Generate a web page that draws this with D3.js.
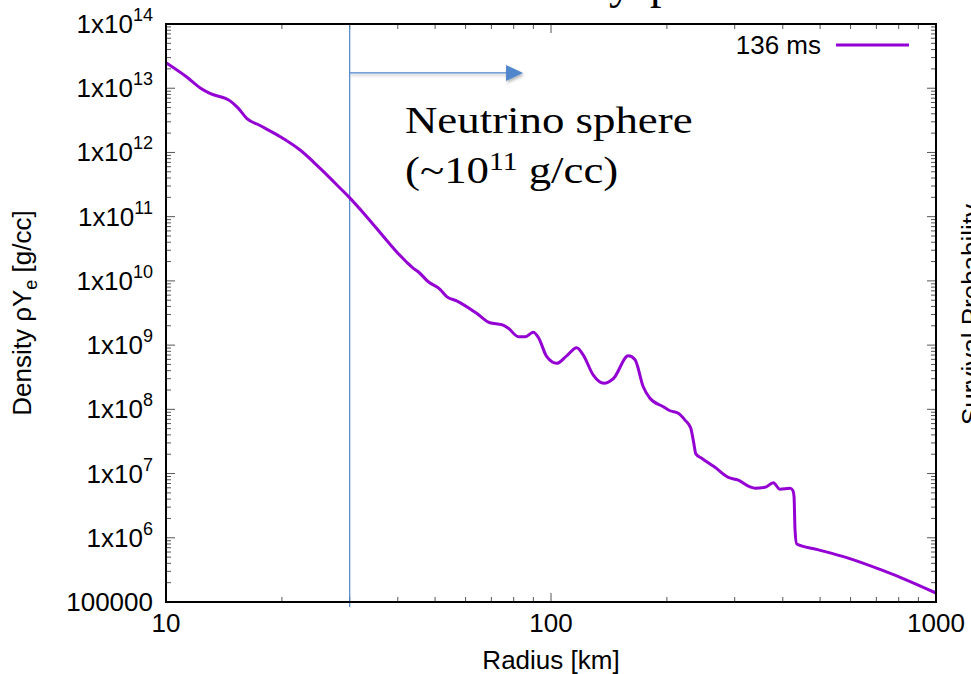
<!DOCTYPE html>
<html>
<head>
<meta charset="utf-8">
<script src="https://cdn.jsdelivr.net/npm/d3@7"></script>
<style>
  html, body { margin: 0; padding: 0; background: #fff; }
  svg { display: block; }
</style>
</head>
<body>
<svg id="chart" width="971" height="674"></svg>
<script>
// ---- data ----
const radiusKm = [10.0, 11.3, 12.3, 13.0, 14.7, 15.4, 16.2, 17.6, 19.8, 22.3, 25.1, 28.3, 29.8, 33.2, 37.4,
  40.5, 42.2, 43.9, 45.2, 48.0, 51.5, 53.6, 56.9, 64.1, 69.4, 74.5, 77.5, 82.3, 85.6, 89.9, 92.7, 97.5,
  103.5, 109.8, 116.6, 121.3, 128.8, 137.3, 145.2, 158.8, 165.3, 173.6, 180.7, 195.7, 203.8, 214.1, 222.9,
  230.6, 234.2, 238.0, 246.3, 266.7, 288.8, 306.6, 328.8, 338.8, 359.6, 377.9, 393.3, 417.7, 424.5, 427.8,
  430.4, 434.8, 489.8, 586.1, 729.7, 839.1, 1000];
const densityYe = [2.5e13, 1.51e13, 1.0e13, 8.3e12, 6.3e12, 4.9e12, 3.4e12, 2.6e12, 1.76e12, 1.09e12, 5.7e11,
  2.8e11, 2.05e11, 1.0e11, 4.3e10, 2.5e10, 1.95e10, 1.57e10, 1.39e10, 9.7e9, 7.4e9, 5.7e9, 4.9e9, 3.13e9,
  2.23e9, 2.08e9, 1.83e9, 1.35e9, 1.35e9, 1.58e9, 1.32e9, 6.6e8, 5.2e8, 6.8e8, 9.1e8, 7.0e8, 3.4e8, 2.54e8,
  3.0e8, 6.8e8, 5.9e8, 2.25e8, 1.49e8, 1.10e8, 9.5e7, 8.7e7, 6.8e7, 5.1e7, 3.3e7, 2.0e7, 1.73e7, 1.25e7,
  8.7e6, 7.9e6, 6.2e6, 5.9e6, 6.1e6, 7.2e6, 5.7e6, 5.9e6, 5.5e6, 4.4e6, 1.3e6, 8.0e5, 6.6e5, 4.9e5, 3.07e5,
  2.2e5, 1.38e5];
const seriesName = "136 ms";
const xTickValues = [10, 100, 1000];
const xTickLabels = ["10", "100", "1000"];
const yTickExponents = [5, 6, 7, 8, 9, 10, 11, 12, 13, 14];
const xDomain = [10, 1000];
const yDomain = [1e5, 1e14];
const neutrinoSphereRadius = 30;      // km, vertical marker
const arrowDensity = 1.73e13;         // arrow height (data units)
const arrowEndRadius = 84.6;          // arrow tip (km)

// ---- layout ----
const svg = d3.select("#chart");
const L = 166, T = 24, R = 936, B = 602;
const x = d3.scaleLog().domain(xDomain).range([L, R]);
const y = d3.scaleLog().domain(yDomain).range([B, T]);
const sans = "'Liberation Sans', Arial, Helvetica, sans-serif";
const serif = "'Liberation Serif', 'Times New Roman', serif";
const purple = "#9400d3";
const blue = "#4f86cc";
const FS = 26, SUP = 18;

// partial title of the slide (cut at top)
svg.append("text").attr("x", 632).attr("y", -2).attr("text-anchor", "end")
  .attr("font-family", serif).attr("font-size", 46).text("Density");
svg.append("text").attr("x", 650).attr("y", -2)
  .attr("font-family", serif).attr("font-size", 46).text("profile");

// partial neighbouring axis title (cut at right)
svg.append("text").attr("transform", "translate(980,425) rotate(-90)")
  .attr("font-family", sans).attr("font-size", FS).attr("fill", "#000").text("Survival Probability");

// ---- ticks (inward, on all four sides) ----
const tickG = svg.append("g").attr("stroke", "#555").attr("stroke-width", 1);
const xMinor = [], yMinor = [];
for (let d = 10; d < 1000; d *= 10) for (let k = 2; k <= 9; k++) xMinor.push(d * k);
for (let e = 5; e < 14; e++) for (let k = 2; k <= 9; k++) yMinor.push(k * Math.pow(10, e));
const xMajor = xTickValues, yMajor = yTickExponents.map(e => Math.pow(10, e));
xMajor.forEach(v => {
  tickG.append("line").attr("x1", x(v)).attr("x2", x(v)).attr("y1", B).attr("y2", B - 9);
  tickG.append("line").attr("x1", x(v)).attr("x2", x(v)).attr("y1", T).attr("y2", T + 9);
});
xMinor.forEach(v => {
  tickG.append("line").attr("x1", x(v)).attr("x2", x(v)).attr("y1", B).attr("y2", B - 5);
  tickG.append("line").attr("x1", x(v)).attr("x2", x(v)).attr("y1", T).attr("y2", T + 5);
});
yMajor.forEach(v => {
  tickG.append("line").attr("x1", L).attr("x2", L + 9).attr("y1", y(v)).attr("y2", y(v));
  tickG.append("line").attr("x1", R).attr("x2", R - 9).attr("y1", y(v)).attr("y2", y(v));
});
yMinor.forEach(v => {
  tickG.append("line").attr("x1", L).attr("x2", L + 5).attr("y1", y(v)).attr("y2", y(v));
  tickG.append("line").attr("x1", R).attr("x2", R - 5).attr("y1", y(v)).attr("y2", y(v));
});

// ---- tick labels ----
xTickValues.forEach((v, i) => {
  svg.append("text").attr("x", x(v)).attr("y", B + 30).attr("text-anchor", "middle")
    .attr("font-family", sans).attr("font-size", FS).text(xTickLabels[i]);
});
yTickExponents.forEach(e => {
  const t = svg.append("text").attr("x", L - 13).attr("y", y(Math.pow(10, e)) + 9)
    .attr("text-anchor", "end").attr("font-family", sans).attr("font-size", FS);
  if (e === 5) { t.text("100000"); }
  else {
    t.append("tspan").text("1x10");
    t.append("tspan").attr("font-size", SUP).attr("dy", -12).text(String(e));
  }
});

// ---- axis titles ----
svg.append("text").attr("x", (L + R) / 2).attr("y", 669).attr("text-anchor", "middle")
  .attr("font-family", sans).attr("font-size", FS).text("Radius [km]");
const yt = svg.append("text").attr("transform", `translate(31,${(T + B) / 2}) rotate(-90)`)
  .attr("text-anchor", "middle").attr("font-family", sans).attr("font-size", FS);
yt.append("tspan").text("Density ρY");
yt.append("tspan").attr("font-size", SUP).attr("dy", 6).text("e");
yt.append("tspan").attr("dy", -6).text(" [g/cc]");

// ---- annotation: neutrino sphere ----
const defs = svg.append("defs");
const f = defs.append("filter").attr("id", "sh").attr("x", "-50%").attr("y", "-50%").attr("width", "200%").attr("height", "200%");
f.append("feDropShadow").attr("dx", 1).attr("dy", 2).attr("stdDeviation", 1.5).attr("flood-color", "#000").attr("flood-opacity", 0.3);
svg.append("line").attr("x1", x(neutrinoSphereRadius)).attr("x2", x(neutrinoSphereRadius))
  .attr("y1", T + 2).attr("y2", B + 5).attr("stroke", blue).attr("stroke-width", 1.2);
const ay = y(arrowDensity), ax1 = x(neutrinoSphereRadius), ax2 = x(arrowEndRadius);
const ag = svg.append("g").attr("filter", "url(#sh)");
ag.append("line").attr("x1", ax1).attr("x2", ax2 - 14).attr("y1", ay).attr("y2", ay)
  .attr("stroke", blue).attr("stroke-width", 1.2);
ag.append("path").attr("d", `M${ax2},${ay} L${ax2 - 17},${ay - 8} L${ax2 - 17},${ay + 8} Z`).attr("fill", blue);

const annG = svg.append("g").attr("transform", "translate(405,0) scale(1.18,1)");
annG.append("text").attr("x", 0).attr("y", 133).attr("font-family", serif).attr("font-size", 38)
  .text("Neutrino sphere");
const t2 = annG.append("text").attr("x", 0).attr("y", 183).attr("font-family", serif).attr("font-size", 38);
t2.append("tspan").text("(~10");
t2.append("tspan").attr("font-size", 25).attr("dy", -13).text("11");
t2.append("tspan").attr("dy", 13).text(" g/cc)");

// ---- data curve ----
const pts = radiusKm.map((r, i) => [r, densityYe[i]]);
const line = d3.line().x(d => x(d[0])).y(d => y(d[1])).curve(d3.curveMonotoneX);
svg.append("defs").append("clipPath").attr("id", "clip").append("rect")
  .attr("x", L).attr("y", T).attr("width", R - L).attr("height", B - T);
svg.append("path").attr("d", line(pts)).attr("fill", "none").attr("stroke", purple)
  .attr("stroke-width", 3).attr("stroke-linejoin", "round").attr("clip-path", "url(#clip)");

// ---- legend ----
svg.append("text").attr("x", 821).attr("y", 54).attr("text-anchor", "end")
  .attr("font-family", sans).attr("font-size", FS).text(seriesName);
svg.append("line").attr("x1", 836).attr("x2", 909).attr("y1", 45).attr("y2", 45)
  .attr("stroke", purple).attr("stroke-width", 3);

// ---- frame ----
svg.append("rect").attr("x", L).attr("y", T).attr("width", R - L).attr("height", B - T)
  .attr("fill", "none").attr("stroke", "#000").attr("stroke-width", 2);
</script>
</body>
</html>
